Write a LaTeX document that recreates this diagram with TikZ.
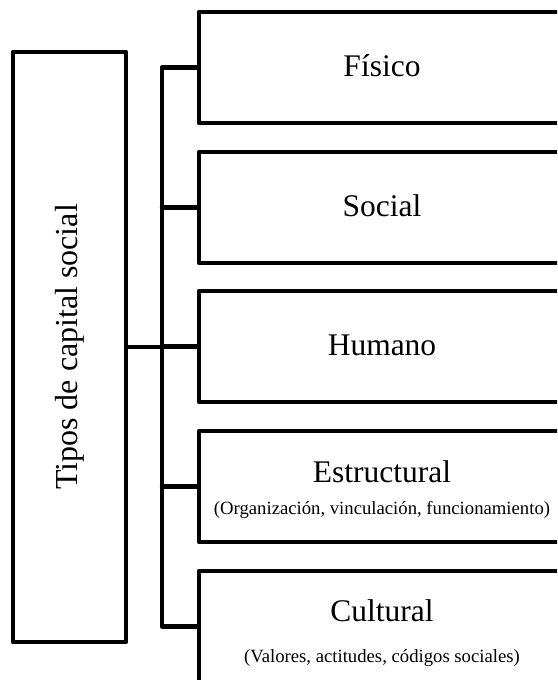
\documentclass[tikz,border=0pt]{standalone}
\usepackage{fontspec}
\setmainfont{Liberation Serif}
\begin{document}
\begin{tikzpicture}[x=1pt,y=-1pt,line join=round,line cap=round,
		caja/.style={draw,line width=4.4pt,inner sep=0pt},
		enlace/.style={line width=4.4pt},
		grande/.style={font=\fontsize{31.5}{36}\selectfont,anchor=base,inner sep=0pt},
		chica/.style={font=\fontsize{18.7}{22}\selectfont,anchor=base,inner sep=0pt}]
		\useasboundingbox (0,0) rectangle (557,680);
		\clip (0,0) rectangle (557,680);
		\node[caja,rotate=90,minimum width=590pt,minimum height=113pt,font=\fontsize{32}{36}\selectfont] (tipos) at (69.5,347) {Tipos de capital social};
		\def\ancho{366pt}\def\alto{111pt}
		\node[caja,minimum width=\ancho,minimum height=\alto] (fis) at (382,67.5) {};
		\node[caja,minimum width=\ancho,minimum height=\alto] (soc) at (382,207.5) {};
		\node[caja,minimum width=\ancho,minimum height=\alto] (hum) at (382,346.5) {};
		\node[caja,minimum width=\ancho,minimum height=\alto] (est) at (382,486.5) {};
		\node[caja,minimum width=\ancho,minimum height=\alto] (cul) at (382,626.5) {};
		\coordinate (bus) at (162,0);
		% textos
		\node[grande] (tfis) at ([yshift=-8.5pt]fis.center) {Físico};
		\node[grande] (tsoc) at ([yshift=-9pt]soc.center) {Social};
		\node[grande] (thum) at ([yshift=-9pt]hum.center) {Humano};
		\node[grande] (test) at ([yshift=4pt]est.center) {Estructural};
		\node[chica] (sest) at ([yshift=-27.5pt]est.center) {(Organización, vinculación, funcionamiento)};
		\node[grande] (tcul) at ([yshift=5.5pt]cul.center) {Cultural};
		\node[chica] (scul) at ([yshift=-36pt]cul.center) {(Valores, actitudes, códigos sociales)};
		% conectores
		\draw[enlace] (fis.west) -- (fis.west -| bus) -- (cul.west -| bus) -- (cul.west);
		\draw[enlace] (tipos.south) -- (tipos.south -| bus);
		\foreach \b in {soc,hum,est}
		\draw[enlace] (\b.west -| bus) -- (\b.west);
\end{tikzpicture}
\end{document}
